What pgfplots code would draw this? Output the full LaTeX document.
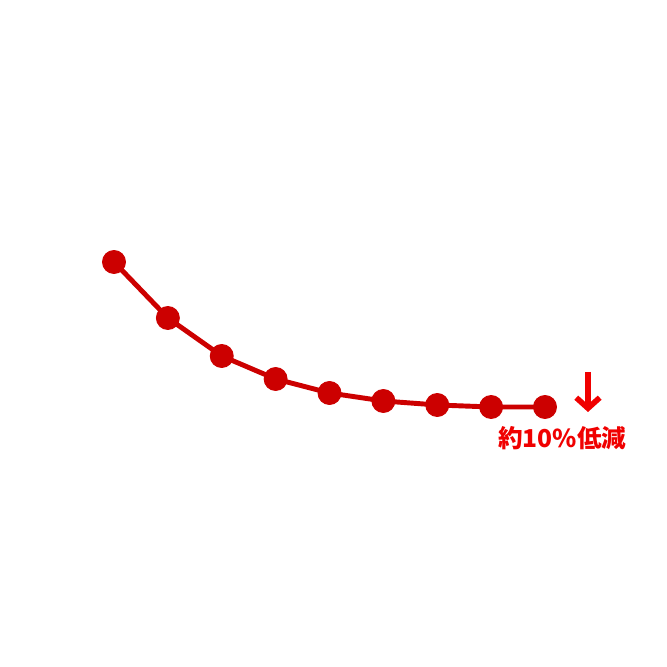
\documentclass[border=0pt]{standalone}
\usepackage{pgfplots}
\pgfplotsset{compat=1.18}
\usepackage{fontspec}
\newfontfamily\cjk{Noto Sans CJK JP}
\usetikzlibrary{arrows.meta}
\definecolor{lred}{RGB}{204,0,0}
\definecolor{tred}{RGB}{240,0,0}
\begin{document}
\begin{tikzpicture}
\begin{axis}[
  scale only axis, width=10cm, height=10cm,
  xmin=-1.116, xmax=11.265, ymin=0, ymax=667,
  hide axis, clip=false,
]
\addplot[color=lred, line width=2.1pt, mark=*, mark size=4.9pt,
  mark options={solid, fill=lred, draw=lred, line width=0.4pt}]
  coordinates {(1,405)(2,349)(3,311)(4,288)(5,274)(6,266)(7,262)(8,260)(9,260)};
\draw[tred, line width=2.2pt, -{Straight Barb[length=4.5pt,width=10pt,line width=2.4pt]}] (axis cs:9.798,295) -- (axis cs:9.798,255);
\node[text=tred, font=\cjk\bfseries\fontsize{10.5}{12}\selectfont, inner sep=0pt] at (axis cs:9.32,229) {約10\%低減};
\end{axis}
\pgfresetboundingbox
\path (current axis.south west) rectangle (current axis.north east);
\end{tikzpicture}
\end{document}
